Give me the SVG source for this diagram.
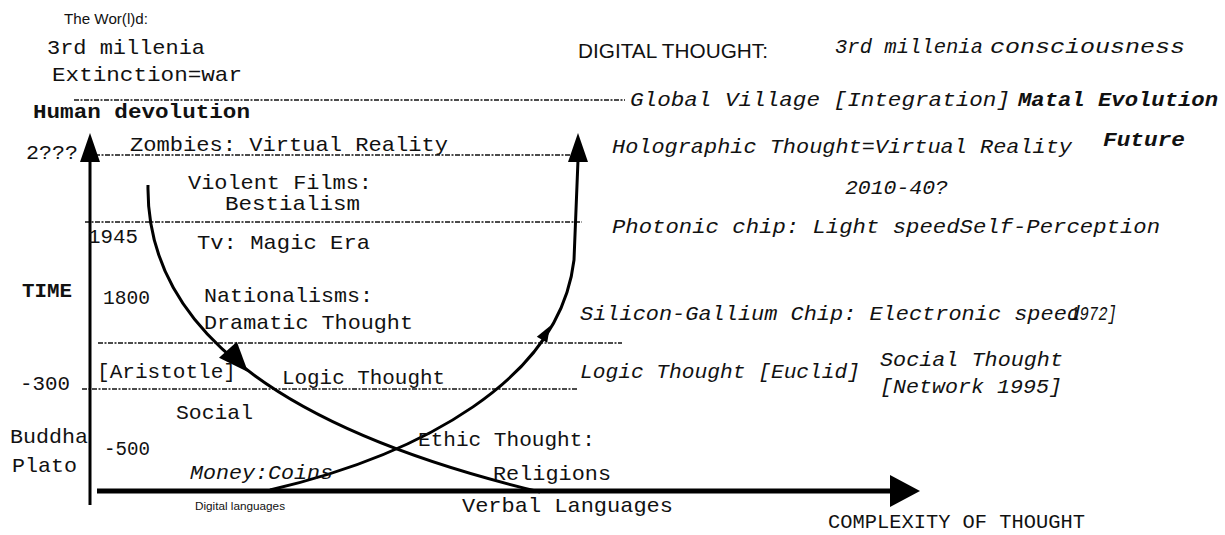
<svg xmlns="http://www.w3.org/2000/svg" width="1225" height="535" viewBox="0 0 1225 535">
<style>
text{fill:#111;}
.m{font-family:"Liberation Mono","DejaVu Sans Mono",monospace;font-size:21px;}
.i{font-family:"Liberation Mono","DejaVu Sans Mono",monospace;font-size:21px;font-style:italic;}
.b{font-weight:bold;}
.s{font-family:"Liberation Sans",Arial,sans-serif;}
.dl{stroke:#111;stroke-width:1.6;stroke-dasharray:5 1.5 2 1.5;fill:none;}
.ax{stroke:#000;fill:none;}
.cv{stroke:#000;stroke-width:3;fill:none;}
.ah{fill:#000;}
</style>
<rect width="1225" height="535" fill="#fff"/>
<g id="connectors">
<line class="dl" x1="74" y1="100" x2="625" y2="100"/>
<line class="dl" x1="95" y1="155" x2="580" y2="155"/>
<line class="dl" x1="85" y1="222" x2="582" y2="222"/>
<line class="dl" x1="98" y1="343" x2="622" y2="343"/>
<line class="dl" x1="82" y1="389" x2="578" y2="389"/>
<line class="ax" x1="90" y1="505" x2="90" y2="158" stroke-width="3"/>
<polygon class="ah" points="90,133 100,162 80,162"/>
<line class="ax" x1="97" y1="491" x2="892" y2="491" stroke-width="5"/>
<polygon class="ah" points="920,491 890,475 890,507"/>
<path class="cv" d="M148,185 C146,305 240,420 540,492"/>
<polygon class="ah" points="0,0 -30,-12 -30,12" transform="translate(248,372) rotate(48)"/>
<path class="cv" d="M270,490 C420,455 560,380 574,260 L578,160"/>
<polygon class="ah" points="0,0 -16,-6 -16,6" transform="translate(550,326) rotate(-60)"/>
<polygon class="ah" points="578,133 588,162 568,162"/>
</g>
<g id="left-labels">
<text class="s" x="64" y="24" font-size="15" textLength="84" lengthAdjust="spacingAndGlyphs">The Wor(l)d:</text>
<text class="m" x="47" y="54" textLength="158" lengthAdjust="spacingAndGlyphs">3rd millenia</text>
<text class="m" x="52" y="81" textLength="190" lengthAdjust="spacingAndGlyphs">Extinction=war</text>
<text class="m b" x="33" y="118" textLength="217" lengthAdjust="spacingAndGlyphs">Human devolution</text>
<text class="m" x="26" y="159" font-size="18" textLength="52" lengthAdjust="spacingAndGlyphs">2???</text>
<text class="m" x="130" y="151" textLength="318" lengthAdjust="spacingAndGlyphs">Zombies: Virtual Reality</text>
<text class="m" x="188" y="189" textLength="184" lengthAdjust="spacingAndGlyphs">Violent Films:</text>
<text class="m" x="225" y="210" textLength="135" lengthAdjust="spacingAndGlyphs">Bestialism</text>
<text class="m" x="88" y="243" font-size="18" textLength="50" lengthAdjust="spacingAndGlyphs">1945</text>
<text class="m" x="197" y="249" textLength="173" lengthAdjust="spacingAndGlyphs">Tv: Magic Era</text>
<text class="m b" x="22" y="297" font-size="16" textLength="50" lengthAdjust="spacingAndGlyphs">TIME</text>
<text class="m" x="103" y="304" font-size="18" textLength="47" lengthAdjust="spacingAndGlyphs">1800</text>
<text class="m" x="204" y="302" textLength="169" lengthAdjust="spacingAndGlyphs">Nationalisms:</text>
<text class="m" x="204" y="329" textLength="209" lengthAdjust="spacingAndGlyphs">Dramatic Thought</text>
<text class="m" x="97" y="378" textLength="139" lengthAdjust="spacingAndGlyphs">[Aristotle]</text>
<text class="m" x="282" y="384" textLength="163" lengthAdjust="spacingAndGlyphs">Logic Thought</text>
<text class="m" x="20" y="390" font-size="18" textLength="50" lengthAdjust="spacingAndGlyphs">-300</text>
<text class="m" x="176" y="419" textLength="77" lengthAdjust="spacingAndGlyphs">Social</text>
<text class="m" x="10" y="443" font-size="19" textLength="78" lengthAdjust="spacingAndGlyphs">Buddha</text>
<text class="m" x="104" y="455" font-size="18" textLength="46" lengthAdjust="spacingAndGlyphs">-500</text>
<text class="m" x="12" y="472" font-size="19" textLength="65" lengthAdjust="spacingAndGlyphs">Plato</text>
<text class="i" x="190" y="479" textLength="143" lengthAdjust="spacingAndGlyphs">Money:Coins</text>
<text class="m" x="418" y="446" textLength="177" lengthAdjust="spacingAndGlyphs">Ethic Thought:</text>
<text class="m" x="493" y="480" textLength="118" lengthAdjust="spacingAndGlyphs">Religions</text>
<text class="s" x="195" y="510" font-size="10" textLength="90" lengthAdjust="spacingAndGlyphs">Digital languages</text>
<text class="m" x="462" y="512" textLength="211" lengthAdjust="spacingAndGlyphs">Verbal Languages</text>
<text class="m" x="828" y="528" font-size="18" textLength="257" lengthAdjust="spacingAndGlyphs">COMPLEXITY OF THOUGHT</text>
</g>
<g id="right-labels">
<text class="s" x="578" y="58" font-size="21" textLength="190" lengthAdjust="spacingAndGlyphs">DIGITAL THOUGHT:</text>
<text class="i" x="835" y="53" textLength="148" lengthAdjust="spacingAndGlyphs">3rd millenia</text>
<text class="i" x="990" y="53" textLength="195" lengthAdjust="spacingAndGlyphs">consciousness</text>
<text class="i" x="630" y="106" textLength="380" lengthAdjust="spacingAndGlyphs">Global Village [Integration]</text>
<text class="i b" x="1018" y="106" textLength="200" lengthAdjust="spacingAndGlyphs">Matal Evolution</text>
<text class="i" x="612" y="153" textLength="460" lengthAdjust="spacingAndGlyphs">Holographic Thought=Virtual Reality</text>
<text class="i b" x="1103" y="146" textLength="82" lengthAdjust="spacingAndGlyphs">Future</text>
<text class="i" x="845" y="194" textLength="103" lengthAdjust="spacingAndGlyphs">2010-40?</text>
<text class="i" x="612" y="233" textLength="548" lengthAdjust="spacingAndGlyphs">Photonic chip: Light speedSelf-Perception</text>
<text class="i" x="580" y="320" textLength="500" lengthAdjust="spacingAndGlyphs">Silicon-Gallium Chip: Electronic speed</text>
<text class="i" x="1070" y="320" textLength="47" lengthAdjust="spacingAndGlyphs">1972]</text>
<text class="i" x="580" y="378" textLength="280" lengthAdjust="spacingAndGlyphs">Logic Thought [Euclid]</text>
<text class="i" x="880" y="366" textLength="183" lengthAdjust="spacingAndGlyphs">Social Thought</text>
<text class="i" x="880" y="393" textLength="182" lengthAdjust="spacingAndGlyphs">[Network 1995]</text>
</g>
</svg>
